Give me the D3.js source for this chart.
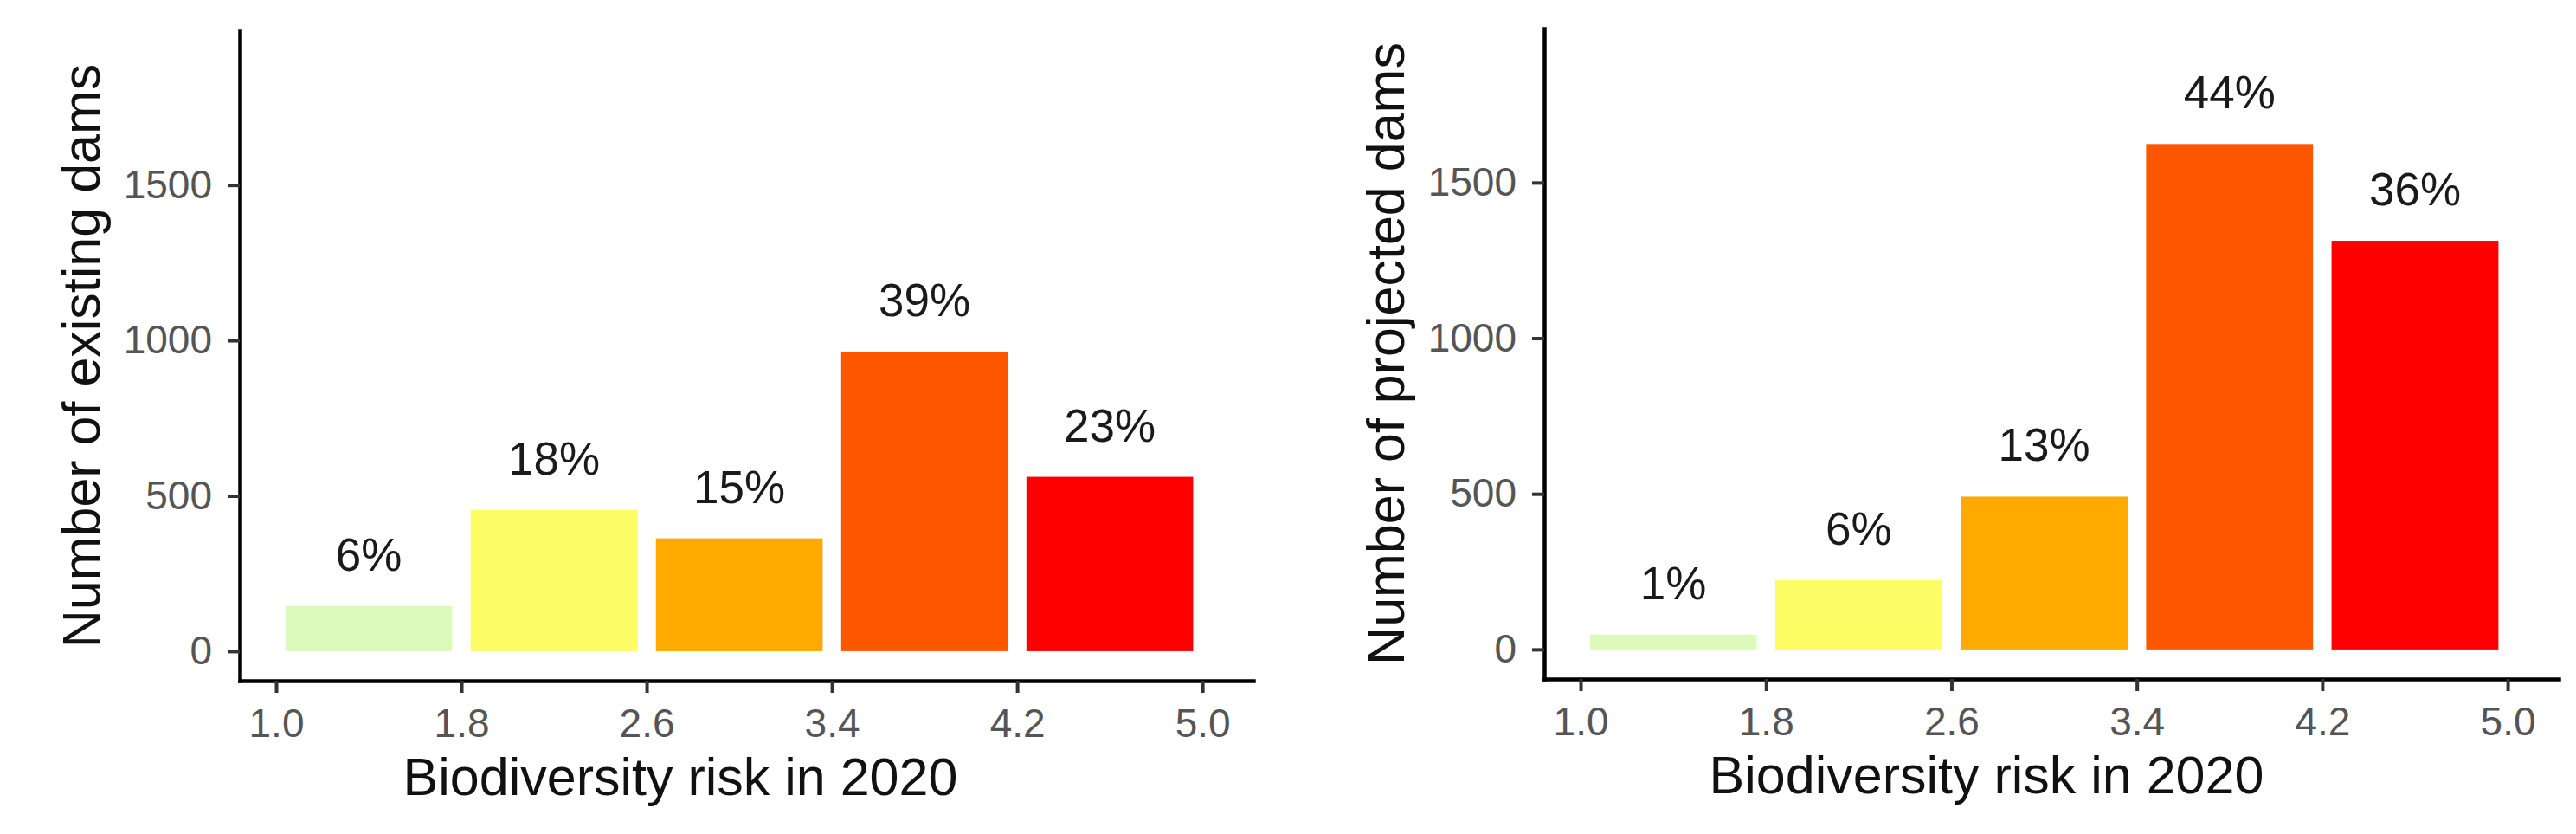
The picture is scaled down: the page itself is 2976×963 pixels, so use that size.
<!DOCTYPE html>
<html>
<head>
<meta charset="utf-8">
<script src="https://cdn.jsdelivr.net/npm/d3@7"></script>
<style>
  html, body { margin: 0; padding: 0; background: #ffffff; }
  svg { display: block; }
</style>
</head>
<body>
<svg id="chart" width="2976" height="963"></svg>
<script>
// ---- data ----
const binEdges = [1.0, 1.8, 2.6, 3.4, 4.2, 5.0];
const xTickValues = [1.0, 1.8, 2.6, 3.4, 4.2, 5.0];
const yTickValues = [0, 500, 1000, 1500];
const barColors = ["#dcfab9", "#fffd66", "#ffaa00", "#ff5700", "#ff0000"];
const existingCounts = [145, 455, 363, 964, 561];
const existingLabels = ["6%", "18%", "15%", "39%", "23%"];
const projectedCounts = [47, 223, 491, 1624, 1313];
const projectedLabels = ["1%", "6%", "13%", "44%", "36%"];
const xTitle = "Biodiversity risk in 2020";
const yTitles = ["Number of existing dams", "Number of projected dams"];

const FONT = "'Liberation Sans', Arial, Helvetica, sans-serif";
const svg = d3.select("#chart");

const panels = [
  { left: 277, right: 1448, top: 36, bottom: 786, counts: existingCounts, labels: existingLabels, yTitle: yTitles[0], xTitleX: 786 },
  { left: 1784, right: 2956, top: 33, bottom: 784, counts: projectedCounts, labels: projectedLabels, yTitle: yTitles[1], xTitleX: 2295 }
];

panels.forEach(p => {
  const x = d3.scaleLinear().domain([0.843, 5.22]).range([p.left, p.right]);
  const y = d3.scaleLinear().domain([-95, 1995]).range([p.bottom, p.top]);
  const g = svg.append("g");

  const bars = p.counts.map((v, i) => ({ x0: binEdges[i], x1: binEdges[i + 1], v, lab: p.labels[i], col: barColors[i] }));
  const inset = 0.04;

  g.selectAll("rect.bar").data(bars).enter().append("rect")
    .attr("class", "bar")
    .attr("x", d => x(d.x0 + inset))
    .attr("width", d => x(d.x1 - inset) - x(d.x0 + inset))
    .attr("y", d => y(d.v))
    .attr("height", d => y(0) - y(d.v))
    .attr("fill", d => d.col);

  g.selectAll("text.pct").data(bars).enter().append("text")
    .attr("class", "pct")
    .attr("x", d => x((d.x0 + d.x1) / 2))
    .attr("y", d => y(d.v) - 41)
    .attr("text-anchor", "middle")
    .attr("font-family", FONT)
    .attr("font-size", 53)
    .attr("fill", "#1a1a1a")
    .text(d => d.lab);

  // axes
  const yAxis = d3.axisLeft(y).tickValues(yTickValues).tickSize(14).tickSizeOuter(0).tickPadding(18)
    .tickFormat(d3.format("d"));
  const yG = g.append("g").attr("transform", `translate(${p.left},0)`).call(yAxis);

  const xAxis = d3.axisBottom(x).tickValues(xTickValues).tickSize(14).tickSizeOuter(0).tickPadding(18)
    .tickFormat(d3.format(".1f"));
  const xG = g.append("g").attr("transform", `translate(0,${p.bottom})`).call(xAxis);

  [yG, xG].forEach(ax => {
    ax.select(".domain").attr("stroke", "#000").attr("stroke-width", 4.5).attr("stroke-linecap", "square");
    ax.selectAll(".tick line").attr("stroke", "#333").attr("stroke-width", 4);
    ax.selectAll(".tick text").attr("font-family", FONT).attr("font-size", 46).attr("fill", "#555");
  });

  // axis titles
  g.append("text")
    .attr("x", p.xTitleX)
    .attr("y", p.bottom + 132)
    .attr("text-anchor", "middle")
    .attr("font-family", FONT)
    .attr("font-size", 61)
    .attr("fill", "#111")
    .text(xTitle);

  g.append("text")
    .attr("transform", `translate(${p.left - 162},${(p.top + p.bottom) / 2}) rotate(-90)`)
    .attr("text-anchor", "middle")
    .attr("font-family", FONT)
    .attr("font-size", 61)
    .attr("fill", "#111")
    .text(p.yTitle);
});
</script>
</body>
</html>
